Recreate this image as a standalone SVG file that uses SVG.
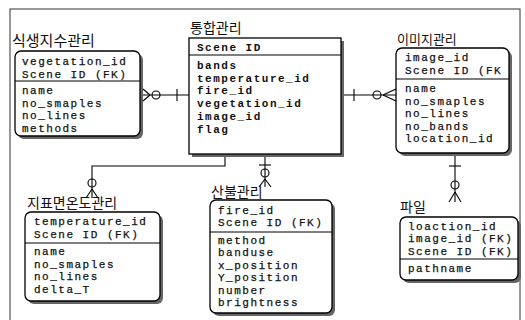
<svg xmlns="http://www.w3.org/2000/svg" width="525" height="320" viewBox="0 0 525 320">
<style>
.bg{fill:#fff}
.frame{fill:none;stroke:#333;stroke-width:1}
.box{fill:#fff;stroke:#000;stroke-width:1.3}
.sh{fill:#666}
.div{stroke:#000;stroke-width:1.2}
.t{font-family:"Liberation Mono",monospace;font-size:11px;letter-spacing:1.5px;fill:#111;stroke:#111;stroke-width:0.25}
.b{font-weight:bold;stroke-width:0}
.k{font-family:"Noto Sans CJK KR",sans-serif;font-size:14px;fill:#111}
.c{fill:none;stroke:#000;stroke-width:1.1}
</style>
<rect class="bg" x="0" y="0" width="525" height="320"/>
<rect class="frame" x="10" y="9" width="510" height="330"/>

<g id="veg">
<text class="k" x="12" y="46" style="font-size:15px">식생지수관리</text>
<rect class="sh" x="18" y="54" width="125" height="85" rx="6"/>
<rect class="box" x="15" y="51" width="125" height="85" rx="6"/>
<line class="div" x1="15" y1="81" x2="140" y2="81"/>
<text class="t" x="22" y="65">vegetation_id</text>
<text class="t" x="22" y="77.5">Scene ID (FK)</text>
<text class="t" x="22" y="94">name</text>
<text class="t" x="22" y="106.5">no_smaples</text>
<text class="t" x="22" y="119">no_lines</text>
<text class="t" x="22" y="131.5">methods</text>
</g>

<g id="main">
<text class="k" x="190" y="33">통합관리</text>
<rect class="sh" x="192" y="41" width="152" height="116"/>
<rect class="box" x="189" y="38" width="152" height="116"/>
<line class="div" x1="189" y1="55" x2="341" y2="55"/>
<text class="t b" x="197" y="51">Scene ID</text>
<text class="t b" x="197" y="69">bands</text>
<text class="t b" x="197" y="81.7">temperature_id</text>
<text class="t b" x="197" y="94.4">fire_id</text>
<text class="t b" x="197" y="107">vegetation_id</text>
<text class="t b" x="197" y="119.8">image_id</text>
<text class="t b" x="197" y="132.5">flag</text>
</g>

<g id="image">
<text class="k" x="397" y="44" style="font-size:13px">이미지관리</text>
<rect class="sh" x="399" y="51" width="113" height="105" rx="6"/>
<rect class="box" x="396" y="48" width="113" height="105" rx="6"/>
<line class="div" x1="396" y1="79" x2="509" y2="79"/>
<text class="t" x="405" y="61">image_id</text>
<text class="t" x="405" y="73.5">Scene ID (FK</text>
<text class="t" x="405" y="92">name</text>
<text class="t" x="405" y="104.5">no_smaples</text>
<text class="t" x="405" y="117">no_lines</text>
<text class="t" x="405" y="129.5">no_bands</text>
<text class="t" x="405" y="142">location_id</text>
</g>

<g id="temp">
<text class="k" x="27" y="208">지표면온도관리</text>
<rect class="sh" x="28" y="215" width="135" height="89" rx="6"/>
<rect class="box" x="25" y="212" width="135" height="89" rx="6"/>
<line class="div" x1="25" y1="243" x2="160" y2="243"/>
<text class="t" x="34" y="225">temperature_id</text>
<text class="t" x="34" y="237.5">Scene ID (FK)</text>
<text class="t" x="34" y="255">name</text>
<text class="t" x="34" y="267.5">no_smaples</text>
<text class="t" x="34" y="280">no_lines</text>
<text class="t" x="34" y="292.5">delta_T</text>
</g>

<g id="fire">
<text class="k" x="211" y="197">산불관리</text>
<rect class="sh" x="213" y="203" width="122" height="113" rx="6"/>
<rect class="box" x="210" y="200" width="122" height="113" rx="6"/>
<line class="div" x1="210" y1="232" x2="332" y2="232"/>
<text class="t" x="218" y="213.5">fire_id</text>
<text class="t" x="218" y="226">Scene ID (FK)</text>
<text class="t" x="218" y="243.5">method</text>
<text class="t" x="218" y="256">banduse</text>
<text class="t" x="218" y="268.5">x_position</text>
<text class="t" x="218" y="281">Y_position</text>
<text class="t" x="218" y="293.5">number</text>
<text class="t" x="218" y="306">brightness</text>
</g>

<g id="file">
<text class="k" x="400" y="212">파일</text>
<rect class="sh" x="403" y="220" width="118" height="63" rx="6"/>
<rect class="box" x="400" y="217" width="118" height="63" rx="6"/>
<line class="div" x1="400" y1="259" x2="518" y2="259"/>
<text class="t" x="408" y="229.5">loaction_id</text>
<text class="t" x="408" y="242">image_id (FK)</text>
<text class="t" x="408" y="254.5">Scene ID (FK)</text>
<text class="t" x="408" y="272">pathname</text>
</g>

<g id="connectors">
<line class="c" x1="143" y1="95" x2="189" y2="95"/>
<line class="c" x1="177" y1="89" x2="177" y2="101"/>
<circle class="c" cx="156" cy="95" r="4"/>
<path class="c" d="M150 95 L143 89 M150 95 L143 101"/>
<line class="c" x1="344" y1="95" x2="396" y2="95"/>
<line class="c" x1="354" y1="89" x2="354" y2="101"/>
<circle class="c" cx="377" cy="95" r="4"/>
<path class="c" d="M383 95 L396 89 M383 95 L396 101"/>
<line class="c" x1="265" y1="157" x2="265" y2="187"/>
<line class="c" x1="259" y1="165" x2="271" y2="165"/>
<circle class="c" cx="265" cy="173" r="4"/>
<path class="c" d="M265 179 L259 187 M265 179 L271 187"/>
<path class="c" d="M225 157 L225 166 L92 166 L92 198"/>
<circle class="c" cx="92" cy="183" r="4"/>
<path class="c" d="M92 189 L86 198 M92 189 L98 198"/>
<line class="c" x1="455" y1="156" x2="455" y2="202"/>
<line class="c" x1="449" y1="166" x2="461" y2="166"/>
<circle class="c" cx="455" cy="185" r="4"/>
<path class="c" d="M455 192 L449 202 M455 192 L461 202"/>
</g>
</svg>
